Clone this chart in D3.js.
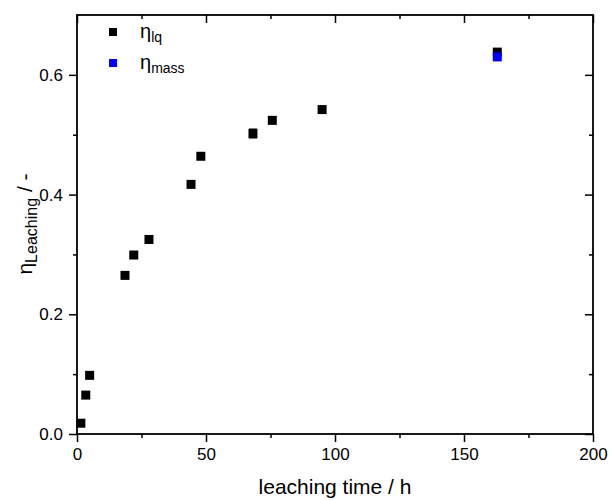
<!DOCTYPE html>
<html><head><meta charset="utf-8">
<script src="https://cdn.jsdelivr.net/npm/d3@7"></script>
<style>body{margin:0;background:#fff}svg{display:block}text{font-family:"Liberation Sans",Arial,sans-serif}</style>
</head><body><svg id="c" width="611" height="500"></svg>
<script>
const lqTime = [1.5, 3.4, 4.9, 18.6, 22, 27.9, 44.2, 48, 68.2, 75.7, 95, 162.9];
const lqEta = [0.018, 0.065, 0.098, 0.265, 0.299, 0.325, 0.417, 0.464, 0.502, 0.524, 0.542, 0.638];
const lqErr = [0, 0, 0, 0, 0, 0, 0, 0, 0.008, 0, 0, 0];
const massTime = [162.9];
const massEta = [0.630];
const xTicks = [0, 50, 100, 150, 200];
const yTicks = [0.0, 0.2, 0.4, 0.6];

const svg = d3.select("#c");
const m = {l:77, r:18, t:15, b:66};
const W = 611, H = 500;
const x = d3.scaleLinear().domain([0,200]).range([m.l, W-m.r]);
const y = d3.scaleLinear().domain([0,0.7]).range([H-m.b, m.t]);

const xMinor = d3.range(0, 201, 25).filter(v => v % 50 !== 0);
const yMinor = [0.1, 0.3, 0.5];

function styleAxis(g){ g.select(".domain").remove(); g.selectAll("line").attr("stroke","#000").attr("stroke-width",1.5); g.selectAll("text").attr("font-size",17).attr("fill","#000"); }

// bottom
svg.append("g").attr("transform",`translate(0,${H-m.b})`)
  .call(d3.axisBottom(x).tickValues(xTicks).tickSize(8).tickPadding(6).tickFormat(d3.format("d"))).call(styleAxis);
svg.append("g").attr("transform",`translate(0,${H-m.b})`)
  .call(d3.axisBottom(x).tickValues(xMinor).tickSize(4).tickFormat("")).call(styleAxis);
// top
svg.append("g").attr("transform",`translate(0,${m.t})`)
  .call(d3.axisBottom(x).tickValues(xTicks).tickSize(8).tickFormat("")).call(styleAxis);
svg.append("g").attr("transform",`translate(0,${m.t})`)
  .call(d3.axisBottom(x).tickValues(xMinor).tickSize(4).tickFormat("")).call(styleAxis);
// left
svg.append("g").attr("transform",`translate(${m.l},0)`)
  .call(d3.axisLeft(y).tickValues(yTicks).tickSize(8).tickPadding(6).tickFormat(d3.format(".1f"))).call(styleAxis);
svg.append("g").attr("transform",`translate(${m.l},0)`)
  .call(d3.axisLeft(y).tickValues(yMinor).tickSize(4).tickFormat("")).call(styleAxis);
// right
svg.append("g").attr("transform",`translate(${W-m.r},0)`)
  .call(d3.axisLeft(y).tickValues(yTicks).tickSize(8).tickFormat("")).call(styleAxis);
svg.append("g").attr("transform",`translate(${W-m.r},0)`)
  .call(d3.axisLeft(y).tickValues(yMinor).tickSize(4).tickFormat("")).call(styleAxis);

// frame
svg.append("rect").attr("x",m.l).attr("y",m.t).attr("width",W-m.l-m.r).attr("height",H-m.t-m.b)
  .attr("fill","none").attr("stroke","#000").attr("stroke-width",1.8);

const ms = 9;
const lq = lqTime.map((t,i)=>({t, e:lqEta[i], err:lqErr[i]}));
const mass = massTime.map((t,i)=>({t, e:massEta[i]}));

// error bars
const eb = svg.append("g").selectAll("g").data(lq.filter(d=>d.err>0)).join("g");
eb.append("line").attr("x1",d=>x(d.t)).attr("x2",d=>x(d.t)).attr("y1",d=>y(d.e-d.err)).attr("y2",d=>y(d.e+d.err)).attr("stroke","#555").attr("stroke-width",1);
eb.append("line").attr("x1",d=>x(d.t)-4).attr("x2",d=>x(d.t)+4).attr("y1",d=>y(d.e-d.err)).attr("y2",d=>y(d.e-d.err)).attr("stroke","#555");
eb.append("line").attr("x1",d=>x(d.t)-4).attr("x2",d=>x(d.t)+4).attr("y1",d=>y(d.e+d.err)).attr("y2",d=>y(d.e+d.err)).attr("stroke","#555");

svg.append("g").selectAll("rect").data(lq).join("rect")
  .attr("x",d=>x(d.t)-ms/2).attr("y",d=>y(d.e)-ms/2).attr("width",ms).attr("height",ms).attr("fill","#000");
svg.append("g").selectAll("rect").data(mass).join("rect")
  .attr("x",d=>x(d.t)-ms/2).attr("y",d=>y(d.e)-ms/2).attr("width",ms).attr("height",ms).attr("fill","#0000ff");

// legend
const legend = [{c:"#000", s:"lq", yy:32},{c:"#0000ff", s:"mass", yy:63}];
legend.forEach(l=>{
  svg.append("rect").attr("x",109).attr("y",l.yy-4).attr("width",8).attr("height",8).attr("fill",l.c);
  const t = svg.append("text").attr("x",140).attr("y",l.yy+6).attr("font-size",20).attr("fill","#000");
  t.append("tspan").text("η");
  t.append("tspan").attr("font-size",14).attr("dy",4).text(l.s);
});

// x label
svg.append("text").attr("x",(m.l+W-m.r)/2).attr("y",494).attr("text-anchor","middle").attr("font-size",21).text("leaching time / h");
// y label
const yl = svg.append("text").attr("transform","translate(32,224) rotate(-90)").attr("text-anchor","middle").attr("font-size",21);
yl.append("tspan").text("η");
yl.append("tspan").attr("font-size",16).attr("dy",5).text("Leaching");
yl.append("tspan").attr("dy",-5).text(" / -");
</script></body></html>
